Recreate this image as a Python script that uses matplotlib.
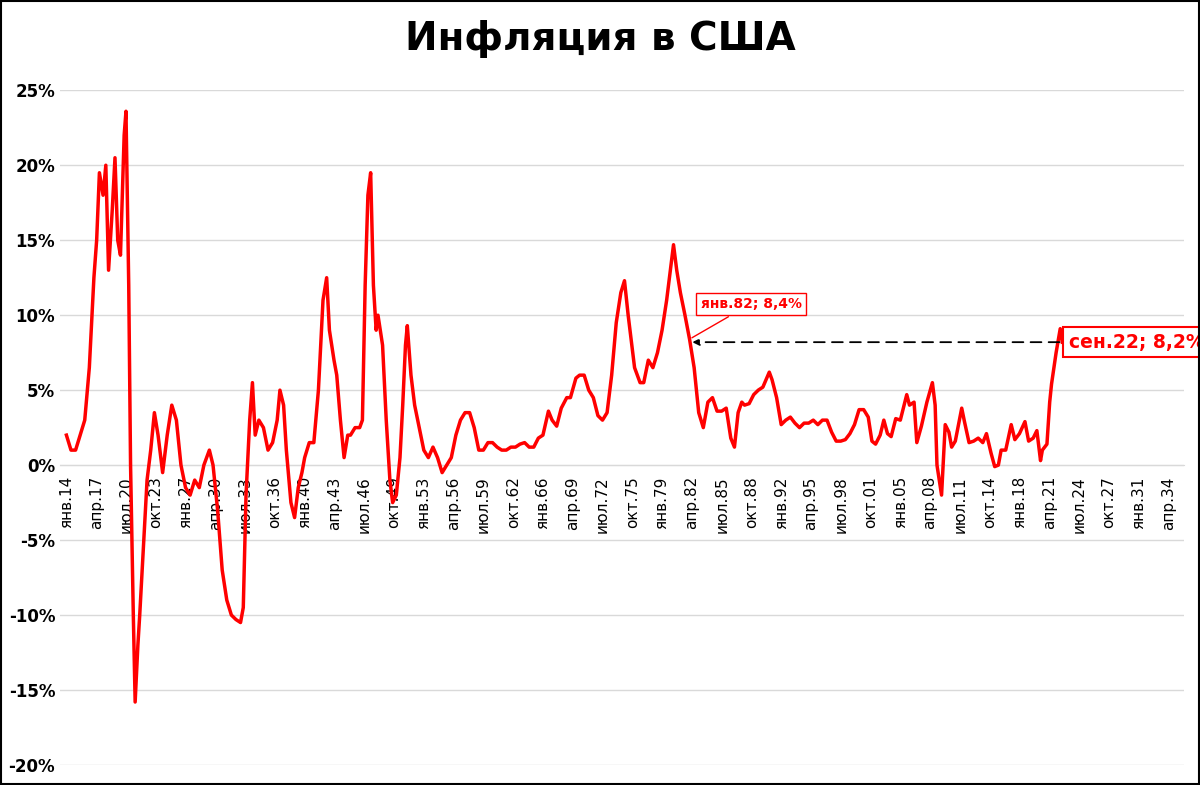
import matplotlib
matplotlib.use("Agg")
import matplotlib.pyplot as plt
from matplotlib.patches import Rectangle

years = [1914.0,1914.5,1915.0,1915.5,1916.0,1916.5,1917.0,1917.3,1917.6,1918.0,1918.3,1918.6,1919.0,1919.3,1919.6,1919.9,1920.3,1920.5,1920.8,1921.0,1921.3,1921.5,1921.8,1922.0,1922.4,1922.8,1923.2,1923.6,1924.0,1924.5,1925.0,1925.5,1926.0,1926.5,1927.0,1927.5,1928.0,1928.5,1929.0,1929.6,1930.0,1930.5,1931.0,1931.5,1932.0,1932.5,1933.0,1933.3,1933.6,1934.0,1934.3,1934.6,1935.0,1935.5,1936.0,1936.5,1937.0,1937.3,1937.7,1938.0,1938.5,1938.9,1939.3,1939.7,1940.0,1940.5,1941.0,1941.5,1942.0,1942.4,1942.7,1943.2,1943.5,1943.9,1944.3,1944.7,1945.0,1945.5,1946.0,1946.3,1946.6,1946.9,1947.2,1947.5,1947.8,1948.0,1948.5,1948.9,1949.3,1949.6,1950.0,1950.4,1950.7,1951.0,1951.2,1951.6,1952.0,1952.5,1953.0,1953.5,1954.0,1954.5,1955.0,1955.5,1956.0,1956.5,1957.0,1957.5,1958.0,1958.5,1959.0,1959.5,1960.0,1960.5,1961.0,1961.5,1962.0,1962.5,1963.0,1963.5,1964.0,1964.5,1965.0,1965.5,1966.0,1966.6,1967.0,1967.5,1968.0,1968.6,1969.0,1969.6,1970.0,1970.5,1971.0,1971.5,1972.0,1972.5,1973.0,1973.5,1974.0,1974.5,1974.9,1975.3,1975.6,1976.0,1976.6,1977.0,1977.5,1978.0,1978.5,1979.0,1979.5,1980.0,1980.25,1980.6,1981.0,1981.5,1982.0,1982.5,1983.0,1983.5,1984.0,1984.5,1985.0,1985.5,1986.0,1986.5,1986.9,1987.3,1987.7,1988.0,1988.5,1989.0,1989.5,1990.0,1990.7,1991.0,1991.5,1992.0,1992.5,1993.0,1993.5,1994.0,1994.5,1995.0,1995.5,1996.0,1996.5,1997.0,1997.5,1998.0,1998.5,1999.0,1999.5,2000.0,2000.5,2001.0,2001.5,2001.9,2002.3,2002.8,2003.2,2003.6,2004.0,2004.5,2005.0,2005.7,2006.0,2006.5,2006.8,2007.3,2007.9,2008.5,2008.8,2009.0,2009.5,2009.9,2010.3,2010.6,2011.0,2011.7,2012.0,2012.5,2013.0,2013.5,2014.0,2014.4,2014.9,2015.3,2015.7,2016.0,2016.5,2017.1,2017.5,2018.0,2018.6,2019.0,2019.5,2019.9,2020.3,2020.5,2021.0,2021.3,2021.5,2022.0,2022.45,2022.67]
inflation = [2.0,1.0,1.0,2.0,3.0,6.5,12.5,15.0,19.5,18.0,20.0,13.0,17.0,20.5,15.0,14.0,22.0,23.6,12.0,0.0,-10.0,-15.8,-12.0,-10.0,-5.5,-1.0,1.0,3.5,2.0,-0.5,2.0,4.0,3.0,0.0,-1.5,-2.0,-1.0,-1.5,0.0,1.0,0.0,-3.0,-7.0,-9.0,-10.0,-10.3,-10.5,-9.5,-2.0,3.0,5.5,2.0,3.0,2.5,1.0,1.5,3.0,5.0,4.0,1.0,-2.5,-3.5,-1.5,-0.5,0.5,1.5,1.5,5.0,11.0,12.5,9.0,7.0,6.0,3.0,0.5,2.0,2.0,2.5,2.5,3.0,12.0,18.0,19.5,12.0,9.0,10.0,8.0,3.0,-1.0,-2.5,-2.0,0.5,4.0,8.0,9.3,6.0,4.0,2.5,1.0,0.5,1.2,0.5,-0.5,0.0,0.5,2.0,3.0,3.5,3.5,2.5,1.0,1.0,1.5,1.5,1.2,1.0,1.0,1.2,1.2,1.4,1.5,1.2,1.2,1.8,2.0,3.6,3.0,2.6,3.8,4.5,4.5,5.8,6.0,6.0,5.0,4.5,3.3,3.0,3.5,6.0,9.5,11.5,12.3,10.0,8.5,6.5,5.5,5.5,7.0,6.5,7.5,9.0,11.0,13.5,14.7,13.0,11.5,10.0,8.4,6.5,3.5,2.5,4.2,4.5,3.6,3.6,3.8,1.8,1.2,3.5,4.2,4.0,4.1,4.7,5.0,5.2,6.2,5.7,4.5,2.7,3.0,3.2,2.8,2.5,2.8,2.8,3.0,2.7,3.0,3.0,2.2,1.6,1.6,1.7,2.1,2.7,3.7,3.7,3.2,1.6,1.4,2.0,3.0,2.1,1.9,3.1,3.0,4.7,4.0,4.2,1.5,2.6,4.2,5.5,4.0,0.0,-2.0,2.7,2.2,1.2,1.6,3.8,2.9,1.5,1.6,1.8,1.5,2.1,0.8,-0.1,0.0,1.0,1.0,2.7,1.7,2.1,2.9,1.6,1.8,2.3,0.3,1.0,1.4,4.2,5.4,7.5,9.1,8.2]

months_ru = ["янв","фев","мар","апр","май","июн","июл","авг","сен","окт","ноя","дек"]
tick_pos, tick_lab = [], []
m = 0
while 1914 + m/12 <= 2035:
    y, mo = 1914 + m // 12, m % 12
    tick_pos.append(y + mo/12)
    tick_lab.append(f"{months_ru[mo]}.{y % 100:02d}")
    m += 39

fig = plt.figure(figsize=(12, 7.85), dpi=100)
fig.patches.append(Rectangle((0.001, 0.001), 0.998, 0.998, transform=fig.transFigure,
                             fill=False, edgecolor="black", linewidth=1.5))
ax = fig.add_axes([0.05, 0.0255, 0.937, 0.8595])
ax.plot(years, inflation, color="#FF0000", linewidth=2.5, zorder=3)
ax.set_ylim(-20, 25)
ax.set_xlim(1913.3, 2036)
ax.set_yticks(range(-20, 26, 5))
ax.set_yticklabels([f"{v}%" for v in range(-20, 26, 5)], fontsize=12, fontweight="bold")
ax.yaxis.grid(True, color="#D9D9D9", linewidth=1)
ax.set_axisbelow(True)
for s in ["top", "right", "left"]:
    ax.spines[s].set_visible(False)
ax.spines["bottom"].set_position(("data", 0))
ax.spines["bottom"].set_color("#D9D9D9")
ax.set_xticks(tick_pos)
ax.set_xticklabels(tick_lab, rotation=90, fontsize=11)
ax.tick_params(axis="x", length=0, pad=8)
ax.tick_params(axis="y", length=0)

fig.suptitle("Инфляция в США", fontsize=28, fontweight="bold", y=0.975)

ax.annotate("", xy=(years[inflation.index(8.4)], 8.2), xytext=(years[-1], 8.2),
            arrowprops=dict(arrowstyle="-|>", linestyle=(0, (6, 4)), color="black", lw=1.3))
ax.annotate("янв.82; 8,4%", xy=(1982.0, 8.4), xytext=(1983.2, 10.5), fontsize=10,
            fontweight="bold", color="#FF0000",
            bbox=dict(boxstyle="square,pad=0.3", fc="white", ec="#FF0000"),
            arrowprops=dict(arrowstyle="-", color="#FF0000", lw=1))
ax.text(2023.4, 8.2, "сен.22; 8,2%", fontsize=13.5, fontweight="bold", color="#FF0000",
        va="center", clip_on=False,
        bbox=dict(boxstyle="square,pad=0.3", fc="white", ec="#FF0000", lw=1.5))
fig.savefig("out.png")
